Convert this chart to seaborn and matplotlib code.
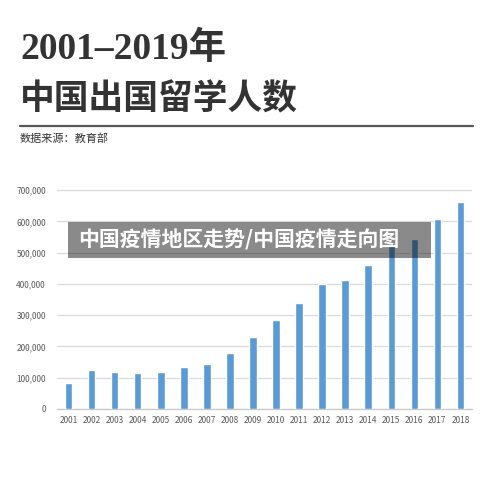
import matplotlib
matplotlib.use('Agg')
import matplotlib.pyplot as plt
from matplotlib.patches import Rectangle
from matplotlib.ticker import FuncFormatter
import seaborn as sns
import pandas as pd

years = [str(y) for y in range(2001, 2019)]
students = [83973, 125179, 117307, 114663, 118515, 134000, 144000, 179800, 229300,
            284700, 339700, 399600, 413900, 459800, 523700, 544500, 608400, 662100]

title_line1 = '2001–2019年'
title_line2 = '中国出国留学人数'
source_note = '数据来源：教育部'
overlay_text = '中国疫情地区走势/中国疫情走向图'

df = pd.DataFrame({'year': years, 'students': students})

sns.set_style('white')
plt.rcParams['font.family'] = ['Noto Sans CJK SC', 'DejaVu Sans']

fig = plt.figure(figsize=(5, 4.82), dpi=100)
ax = fig.add_axes([0.114, 0.1515, 0.83, 0.4555])

sns.barplot(data=df, x='year', y='students', color='#5b9bd5', width=0.33,
            saturation=1, ax=ax, zorder=3)

ax.set_xlim(-0.5, len(years) - 0.5)
ax.set_ylim(0, 702000)
ax.set_yticks(range(0, 700001, 100000))
ax.yaxis.set_major_formatter(FuncFormatter(lambda v, p: f'{int(v):,}'))
ax.grid(axis='y', color='#d9d9d9', linewidth=0.9, zorder=0)
ax.set_xlabel('')
ax.set_ylabel('')
for s in ['top', 'right', 'left']:
    ax.spines[s].set_visible(False)
ax.spines['bottom'].set_color('#c8c8c8')
ax.spines['bottom'].set_linewidth(0.9)
ax.tick_params(axis='both', length=0, labelsize=6, colors='#595959', pad=5)
ax.tick_params(axis='y', pad=8)

# titles
fig.text(0.04, 0.898, title_line1, fontsize=27, fontweight='bold', color='#333333',
         family=['Liberation Serif', 'Noto Sans CJK SC'], va='center')
fig.text(0.04, 0.795, title_line2, fontsize=25, fontweight='bold', color='#333333',
         family=['Noto Sans CJK SC', 'DejaVu Sans'], va='center')
fig.lines.append(plt.Line2D([0.04, 0.946], [0.739, 0.739], transform=fig.transFigure,
                            color='#555555', linewidth=1.6))
fig.text(0.04, 0.712, source_note, fontsize=8, color='#333333', va='center')

# grey banner overlay
fig.patches.append(Rectangle((0.136, 0.4647), 0.726, 0.0747, transform=fig.transFigure,
                             facecolor='black', alpha=0.46, edgecolor='none', zorder=10))
fig.text(0.156, 0.502, overlay_text, fontsize=15, fontweight='bold', color='white',
         va='center', zorder=11)

fig.savefig('out.png', dpi=100)
